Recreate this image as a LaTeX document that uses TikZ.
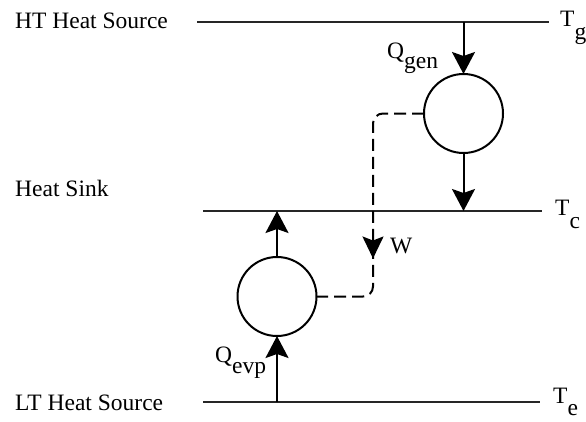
\documentclass[tikz,border=0pt]{standalone}
\usepackage{fontspec}
\setmainfont{Liberation Serif}
\usepackage{tikz}
\usetikzlibrary{positioning, calc, arrows.meta, decorations.markings}

\newcommand{\lowsub}[2][12pt]{\raisebox{-#1}{#2}}

\begin{document}
\begin{tikzpicture}[
            x=1pt, y=-1pt,
            level/.style={line width=2.6pt, black!85},
            lbl/.style={inner sep=0pt, anchor=base west, font=\fontsize{23.5}{28}\selectfont},
            cycle/.style={circle, draw, line width=2pt, minimum size=79pt, inner sep=0pt, outer sep=0pt},
            flow/.style={-{Stealth[length=22pt, width=23pt, inset=4pt]}, line width=2pt},
            work/.style={line width=2pt, dash pattern=on 12pt off 6pt, rounded corners=10pt,
                postaction={decorate, decoration={markings,
                    mark=at position 0.68 with {\arrow{Stealth[length=22pt, width=21pt, inset=4pt]}}}}}
        ]
            \useasboundingbox (0,0) rectangle (586,421);

            % Levels
            \coordinate (gL) at (197,22);  \coordinate (gR) at (549,22);
            \coordinate (cL) at (203,211); \coordinate (cR) at (542,211);
            \coordinate (eL) at (203,402); \coordinate (eR) at (540,402);
            \draw[level] (gL) -- (gR);
            \draw[level] (cL) -- (cR);
            \draw[level] (eL) -- (eR);

            \node[lbl] (ht) at (15,28) {HT Heat Source};
            \node[lbl] (sink) at (15,196) {Heat Sink};
            \node[lbl] (lt) at (15,410) {LT Heat Source};
            \node[lbl] (tg) at (560,26) {T\lowsub[13pt]{g}};
            \node[lbl] (tc) at (555,215) {T\lowsub[13pt]{c}};
            \node[lbl] (te) at (553,403) {T\lowsub[12pt]{e}};

            % Nodes
            \node[cycle] (gen) at (463.5,113.5) {};
            \node[cycle] (evp) at (277,296.5) {};

            % Arrows
            \draw[flow] (gen |- gL) -- (gen.north);
            \draw[flow] (gen.south) -- (gen |- cL);
            \draw[flow] (evp |- eL) -- (evp.south);
            \draw[flow] (evp.north) -- (evp |- cL);

            % Work
            \coordinate (wx) at (373,0);
            \draw[work] (gen.west) -- (gen.west -| wx) -- (evp.east -| wx) -- (evp.east);

            \node[lbl] (qgen) at (387,58) {Q\lowsub[10pt]{gen}};
            \node[lbl] (qevp) at (215,362) {Q\lowsub[11pt]{evp}};
            \node[lbl] (w) at (390,253) {W};
        \end{tikzpicture}
\end{document}
